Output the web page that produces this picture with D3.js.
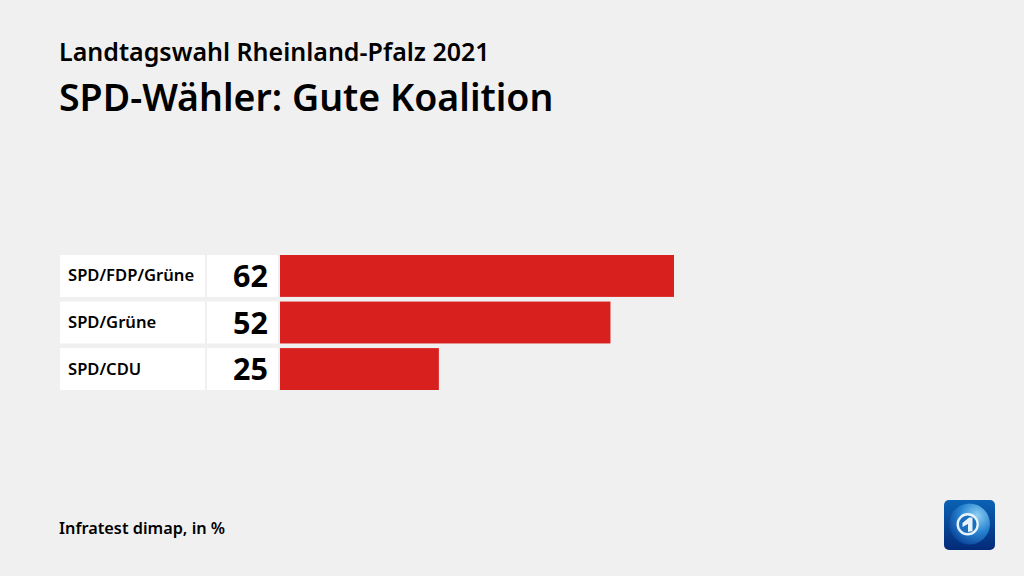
<!DOCTYPE html>
<html>
<head>
<meta charset="utf-8">
<script src="https://cdnjs.cloudflare.com/ajax/libs/d3/7.8.5/d3.min.js"></script>
<style>
  html, body { margin: 0; padding: 0; background: #f0f0f0; }
  svg { display: block; }
  text { font-family: "Noto Sans", sans-serif; fill: #000; }
</style>
</head>
<body>
<div id="chart"></div>
<script>
var categories = ['SPD/FDP/Grüne', 'SPD/Grüne', 'SPD/CDU'];
var values = [62, 52, 25];
var overline = 'Landtagswahl Rheinland-Pfalz 2021';
var title = 'SPD-Wähler: Gute Koalition';
var source = 'Infratest dimap, in %';

var width = 1024, height = 576;
var svg = d3.select('#chart').append('svg')
  .attr('width', width)
  .attr('height', height);

svg.append('rect').attr('width', width).attr('height', height).attr('fill', '#f0f0f0');

// Header and source
svg.append('text').attr('x', 59).attr('y', 61)
  .attr('font-size', 25).attr('font-weight', 600).text(overline);
svg.append('text').attr('x', 59).attr('y', 111)
  .attr('font-size', 37.5).attr('font-weight', 600).text(title);
svg.append('text').attr('x', 59).attr('y', 534)
  .attr('font-size', 16.3).attr('font-weight', 600).text(source);

// Scales
var x = d3.scaleLinear().domain([0, 100]).range([280, 915.5]);
var y = d3.scaleBand().domain(categories).range([255, 390]).paddingInner(0.1).paddingOuter(0);

var rows = svg.selectAll('g.row')
  .data(categories)
  .enter().append('g')
  .attr('class', 'row')
  .attr('transform', function(d) { return 'translate(0,' + y(d) + ')'; });

rows.append('rect').attr('x', 60).attr('width', 145).attr('height', y.bandwidth()).attr('fill', '#fff');
rows.append('rect').attr('x', 207).attr('width', 71).attr('height', y.bandwidth()).attr('fill', '#fff');
rows.append('rect')
  .attr('x', x(0))
  .attr('width', function(d, i) { return x(values[i]) - x(0); })
  .attr('height', y.bandwidth())
  .attr('fill', '#d8201e');

rows.append('text')
  .attr('x', 68)
  .attr('y', y.bandwidth() / 2 + 5.5)
  .attr('font-size', 16.6)
  .attr('font-weight', 600)
  .text(function(d) { return d; });

rows.append('text')
  .attr('x', 268)
  .attr('y', y.bandwidth() / 2 + 11)
  .attr('text-anchor', 'end')
  .attr('font-size', 30.5)
  .attr('font-weight', 700)
  .text(function(d, i) { return values[i]; });

// Logo
var defs = svg.append('defs');
var bg = defs.append('linearGradient').attr('id', 'logoBg').attr('x1', 0).attr('y1', 0).attr('x2', 0).attr('y2', 1);
bg.append('stop').attr('offset', 0).attr('stop-color', '#0a62b4');
bg.append('stop').attr('offset', 1).attr('stop-color', '#032a78');
var globe = defs.append('radialGradient').attr('id', 'logoGlobe').attr('cx', 0.68).attr('cy', 0.3).attr('r', 0.8);
globe.append('stop').attr('offset', 0).attr('stop-color', '#8fd0f2');
globe.append('stop').attr('offset', 0.5).attr('stop-color', '#2a86d2');
globe.append('stop').attr('offset', 1).attr('stop-color', '#073f96');

var logo = svg.append('g').attr('transform', 'translate(944,500)');
logo.append('rect').attr('width', 51).attr('height', 50).attr('rx', 5).attr('fill', 'url(#logoBg)');
logo.append('circle').attr('cx', 25.5).attr('cy', 24).attr('r', 20.5).attr('fill', 'url(#logoGlobe)');
logo.append('circle').attr('cx', 23.7).attr('cy', 24.3).attr('r', 10).attr('fill', '#1a6fbe').attr('stroke', '#e8f3fb').attr('stroke-width', 2.4);
logo.append('path').attr('d', 'M18.5 23 L25 17.5 L28.5 17.5 L28.5 31 L24 32 L24 24 L18.5 27 Z').attr('fill', '#e8f3fb');
</script>
</body>
</html>
